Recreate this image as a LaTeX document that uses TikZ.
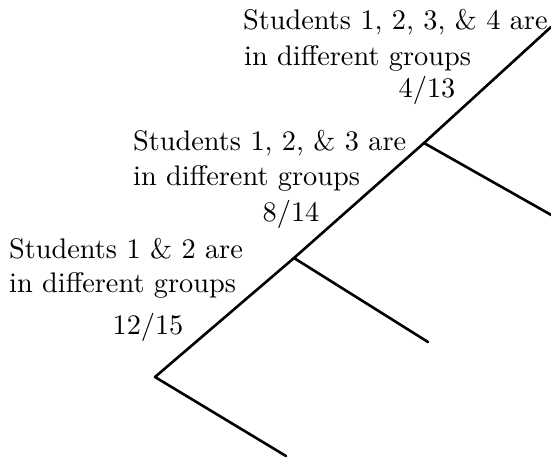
\documentclass[tikz,border=0pt]{standalone}
\newcommand{\bigtxt}[1]{\scalebox{2.83}{\normalsize #1}}
\begin{document}
\begin{tikzpicture}[x=1pt,y=-1pt,
  lbl/.style={inner sep=0pt},
  branch/.style={line width=2.6pt,line cap=round,line join=round}]
\useasboundingbox (0,0) rectangle (551,460);
\coordinate (root) at (155,377);
\coordinate (n2) at (294,258);
\coordinate (n3) at (424,143);
\coordinate (top) at (551,27);
\coordinate (l1) at (286,456);
\coordinate (l2) at (428,342);
\coordinate (l3) at (553,216);
\draw[branch] (l1) -- (root) -- (n2) -- (n3) -- (top);
\draw[branch] (n2) -- (l2);
\draw[branch] (n3) -- (l3);
% label 1
\node[lbl,anchor=base west] (a1) at (9,258) {\bigtxt{Students 1 \& 2 are}};
\node[lbl,anchor=base west] (a2) at (9,292) {\bigtxt{in different groups}};
\node[lbl,anchor=base] (a3) at (148,334) {\bigtxt{$12/15$}};
% label 2
\node[lbl,anchor=base west] (b1) at (133,150) {\bigtxt{Students 1, 2, \& 3 are}};
\node[lbl,anchor=base west] (b2) at (133,185) {\bigtxt{in different groups}};
\node[lbl,anchor=base] (b3) at (291,221) {\bigtxt{$8/14$}};
% label 3
\node[lbl,anchor=base west] (c1) at (243,30) {\bigtxt{Students 1, 2, 3, \& 4 are}};
\node[lbl,anchor=base west] (c2) at (244,65) {\bigtxt{in different groups}};
\node[lbl,anchor=base] (c3) at (427,97) {\bigtxt{$4/13$}};
\end{tikzpicture}
\end{document}
